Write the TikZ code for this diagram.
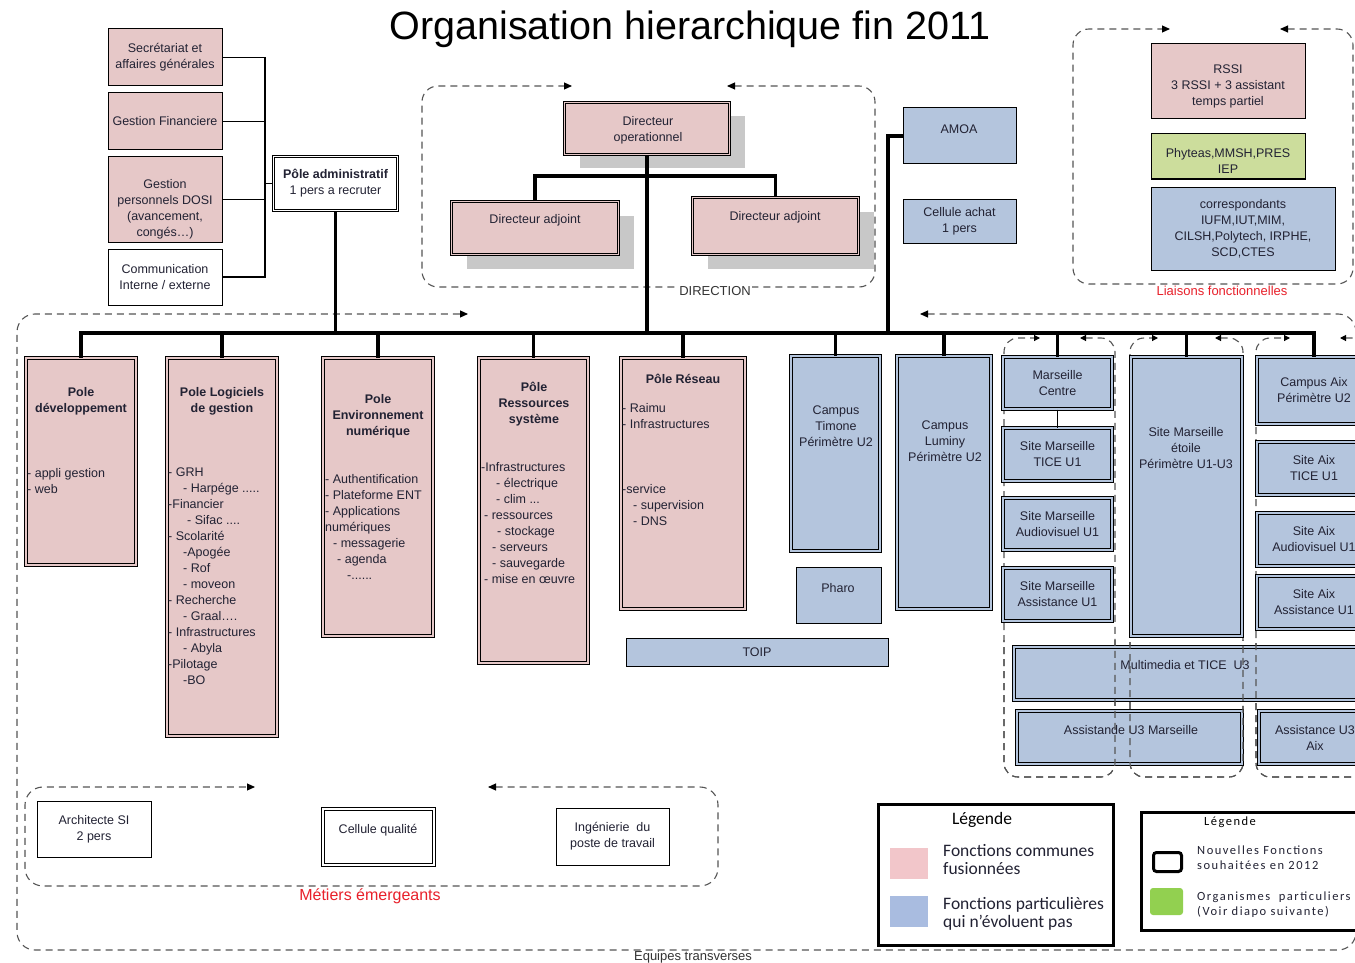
\documentclass[tikz,border=0pt]{standalone}
\usepackage{fontspec}
\setmainfont{Liberation Sans}
\newfontfamily\calfont{Carlito}
\newfontfamily\calsp[LetterSpace=12]{Carlito}
\usetikzlibrary{arrows.meta,shadows}
\definecolor{pinkc}{HTML}{E6C8C8}
\definecolor{bluec}{HTML}{B4C5DD}
\definecolor{greenc}{HTML}{CCDD9C}
\definecolor{lgreen}{HTML}{92D050}
\definecolor{lpink}{HTML}{F2C6CA}
\definecolor{lblue}{HTML}{A9BCE0}
\definecolor{txt}{HTML}{222233}
\definecolor{grpc}{HTML}{555555}
\definecolor{redc}{HTML}{E8202A}
\definecolor{shadowc}{HTML}{C8C8C8}
\tikzset{
  box/.style={draw=black, line width=1pt, rectangle, inner sep=0pt, text=txt, align=center, font=\fontsize{12.5}{16}\selectfont},
  pk/.style={box, fill=pinkc},
  bl/.style={box, fill=bluec},
  wh/.style={box, fill=white},
  dbl/.style={double=#1, double distance=1.6pt, line width=1pt},
  sz/.style 2 args={minimum width=#1pt, minimum height=#2pt},
  shadowed/.style={drop shadow={shadow xshift=15pt, shadow yshift=-14pt, fill=shadowc, opacity=1}},
  tx/.style={inner sep=0pt, text=txt, align=center, font=\fontsize{12.5}{16}\selectfont},
  txb/.style={tx, font=\fontsize{12.5}{16}\selectfont\bfseries},
  txl/.style={inner sep=0pt, text=txt, align=left, anchor=west, font=\fontsize{12.5}{16}\selectfont},
  bus/.style={line width=3.5pt, line join=miter},
  conn/.style={line width=1.3pt},
  grp/.style={draw=grpc, line width=1.1pt, dash pattern=on 7pt off 5pt, rounded corners=#1},
  bigtips/.style={{Triangle[length=8pt,width=7pt,color=black]}-{Triangle[length=8pt,width=7pt,color=black]}},
  smalltips/.style={{Triangle[length=6pt,width=6pt,color=black]}-{Triangle[length=6pt,width=6pt,color=black]}},
  lab/.style={inner sep=1pt, text=black!80, font=\fontsize{13}{15}\selectfont},
}
\newcommand\colgrps{%
  \draw[grp=14pt, smalltips] (1080,338) -- (1115,338) -- (1115,777) -- (1004,777) -- (1004,338) -- (1040,338);
  \draw[grp=14pt, smalltips] (1215,338) -- (1243,338) -- (1243,777) -- (1130,777) -- (1130,338) -- (1158,338);
  \draw[grp=14pt, smalltips] (1340,338) -- (1375,338) -- (1375,777) -- (1256,777) -- (1256,338) -- (1290,338);
}
\begin{document}
\begin{tikzpicture}[x=1pt,y=-1pt]
\fill[white] (0,0) rectangle (1355,963);
\useasboundingbox (0,0) rectangle (1355,963);

% title
\node[inner sep=0pt, font=\fontsize{39.5}{44}\selectfont] (title) at (690,29) {Organisation hierarchique fin 2011};

% big dashed groups
\draw[grp=16pt, bigtips] (727,86) -- (875,86) -- (875,287) -- (422,287) -- (422,86) -- (572,86);
\draw[grp=16pt, bigtips] (1280,29) -- (1353,29) -- (1353,284) -- (1073,284) -- (1073,29) -- (1170,29);
\draw[grp=18pt, bigtips] (920,314) -- (1356,314) -- (1356,950) -- (17,950) -- (17,314) -- (468,314);
\draw[grp=18pt, bigtips] (488,787) -- (718,787) -- (718,886) -- (25,886) -- (25,787) -- (255,787);
\colgrps

\node[lab, fill=white] (dirlab) at (715,291) {DIRECTION};
\node[lab, text=redc] (liaislab) at (1222,291) {Liaisons fonctionnelles};
\node[lab, text=redc, font=\fontsize{16}{18}\selectfont] (metlab) at (370,896) {Métiers émergeants};
\node[lab] (eqlab) at (693,957) {Equipes transverses};

% administrative
\node[pk, sz={114}{57}] (sec) at (165,57.5) {Secrétariat et\\affaires générales};
\node[pk, sz={114}{57}] (gfin) at (165,121.5) {Gestion Financiere};
\node[pk, sz={114}{85}] (gpers) at (165,199.5) {};
\node[tx] (gperst) at (165,209) {Gestion\\personnels DOSI\\(avancement,\\congés…)};
\node[wh, sz={114}{56}] (comm) at (165,277) {Communication\\Interne / externe};
\node[wh, dbl=white, sz={124}{54}] (adm) at (335.5,183.5) {\textbf{Pôle administratif}\\1 pers a recruter};
\coordinate (vx) at (265,0);
\draw[conn] (sec.east) -- (sec.east -| vx) -- (comm.east -| vx) -- (comm.east);
\draw[conn] (gfin.east) -- (gfin.east -| vx);
\draw[conn] (gpers.east) -- (gpers.east -| vx);
\draw[conn] (adm.west) -- (adm.west -| vx);

% direction
\node[pk, dbl=pinkc, sz={165}{52}, shadowed] (dirop) at (647,128.5) {};
\node[tx] (diropt) at (648,130) {Directeur\\operationnel};
\node[pk, dbl=pinkc, sz={167}{53}, shadowed] (dadjl) at (535,228) {};
\node[tx] (dadjlt) at (535,220) {Directeur adjoint};
\node[pk, dbl=pinkc, sz={166}{57}, shadowed] (dadjr) at (775.5,226) {};
\node[tx] (dadjrt) at (775,217) {Directeur adjoint};
\coordinate (dy) at (0,176);
\draw[bus] (dadjl.north) -- (dadjl.north |- dy) -- (dadjr.north |- dy) -- (dadjr.north);

\node[bl, sz={113}{56}] (amoa) at (959.5,136) {};
\node[tx] (amoat) at (959,129) {AMOA};
\node[bl, sz={113}{44}] (achat) at (959.5,221) {Cellule achat\\1 pers};

% liaisons
\node[pk, sz={154}{75}] (rssi) at (1228,81.5) {};
\node[tx] (rssit) at (1228,86) {RSSI\\3 RSSI + 3 assistant\\temps partiel};
\node[box, fill=greenc, sz={154}{45}] (phy) at (1228,156.5) {};
\node[tx] (phyt) at (1228,160.5) {Phyteas,MMSH,PRES\\IEP};
\node[bl, sz={184}{83}] (corr) at (1243,228.5) {correspondants\\IUFM,IUT,MIM,\\CILSH,Polytech, IRPHE,\\SCD,CTES};

% poles
\node[pk, dbl=pinkc, sz={110}{207}] (dev) at (81,461.5) {};
\node[txb] (devt) at (81,401) {Pole\\développement};
\node[txl] (devi) at (27,481) {- appli gestion\\- web};

\node[pk, dbl=pinkc, sz={110}{378}] (logi) at (222,547) {};
\node[txb] (logit) at (222,401) {Pole Logiciels\\de gestion};
\node[txl] (logii) at (168,576.5) {- GRH\\\hspace*{15pt}- Harpége .....\\-Financier\\\hspace*{19pt}- Sifac ....\\- Scolarité\\\hspace*{15pt}-Apogée\\\hspace*{15pt}- Rof\\\hspace*{15pt}- moveon\\- Recherche\\\hspace*{15pt}- Graal….\\- Infrastructures\\\hspace*{15pt}- Abyla\\-Pilotage\\\hspace*{15pt}-BO};

\node[pk, dbl=pinkc, sz={110}{278}] (env) at (378,497) {};
\node[txb] (envt) at (378,416) {Pole\\Environnement\\numérique};
\node[txl] (envi) at (325,527) {- Authentification\\- Plateforme ENT\\- Applications\\numériques\\\hspace*{8pt}- messagerie\\\hspace*{12pt}- agenda\\\hspace*{22pt}-......};

\node[pk, dbl=pinkc, sz={109}{305}] (ress) at (533.5,510.5) {};
\node[txb] (resst) at (534,404) {Pôle\\Ressources\\système};
\node[txl] (ressi) at (481,523.5) {-Infrastructures\\\hspace*{15pt}- électrique\\\hspace*{15pt}- clim ...\\\hspace*{3pt}- ressources\\\hspace*{16pt}- stockage\\\hspace*{11pt}- serveurs\\\hspace*{11pt}- sauvegarde\\\hspace*{3pt}- mise en œuvre};

\node[pk, dbl=pinkc, sz={124}{251}] (res) at (683,483.5) {};
\node[txb] (rest) at (683,379) {Pôle Réseau};
\node[txl] (resi1) at (622,416.5) {- Raimu\\- Infrastructures};
\node[txl] (resi2) at (622,505) {-service\\\hspace*{11pt}- supervision\\\hspace*{11pt}- DNS};

\node[bl, dbl=bluec, sz={89}{195}] (tim) at (835.5,453.5) {};
\node[tx] (timt) at (836,426) {Campus\\Timone\\Périmètre U2};
\node[bl, sz={85}{56}] (pharo) at (838.5,595) {};
\node[tx] (pharot) at (838,588) {Pharo};
\node[bl, dbl=bluec, sz={94}{253}] (lum) at (944,482.5) {};
\node[tx] (lumt) at (945,441) {Campus\\Luminy\\Périmètre U2};
\node[bl, sz={262}{28}] (toip) at (757,652) {TOIP};

% right side sites
\node[bl, dbl=bluec, sz={109}{52}] (mc) at (1057.5,383) {Marseille\\Centre};
\node[bl, dbl=bluec, sz={109}{53}] (mt) at (1057.5,454.5) {Site Marseille\\TICE U1};
\node[bl, dbl=bluec, sz={109}{52}] (ma) at (1057.5,524) {Site Marseille\\Audiovisuel U1};
\node[bl, dbl=bluec, sz={109}{53}] (ms) at (1057.5,594.5) {Site Marseille\\Assistance U1};
\draw[conn] (mc.south) -- (mt.north);
\node[bl, dbl=bluec, sz={111}{279}] (etoile) at (1186.5,496.5) {};
\node[tx] (etoilet) at (1186,448) {Site Marseille\\étoile\\Périmètre U1-U3};
\node[bl, dbl=bluec, sz={114}{67}] (aixc) at (1314,390.5) {Campus Aix\\Périmètre U2};
\node[bl, dbl=bluec, sz={114}{53}] (aixt) at (1314,468.5) {Site Aix\\TICE U1};
\node[bl, dbl=bluec, sz={114}{53}] (aixa) at (1314,539.5) {Site Aix\\Audiovisuel U1};
\node[bl, dbl=bluec, sz={114}{53}] (aixs) at (1314,602.5) {Site Aix\\Assistance U1};
\node[bl, dbl=bluec, sz={357}{53}] (mm) at (1192.5,673.5) {};
\node[tx] (mmt) at (1185,665) {Multimedia et TICE\ \ U3};
\node[bl, dbl=bluec, sz={225}{53}] (asm) at (1129.5,737.5) {};
\node[tx] (asmt) at (1131,730) {Assistande U3 Marseille};
\node[bl, dbl=bluec, sz={112}{53}] (asa) at (1315,737.5) {Assistance U3\\Aix};
\begin{scope}
  \clip (990,640) rectangle (1380,790);
  \colgrps
\end{scope}

% bus
\coordinate (busy) at (0,333);
\draw[bus] (dev.north) -- (dev.north |- busy) -- (aixc.north |- busy) -- (aixc.north);
\foreach \n in {logi,env,ress,res,tim,lum,mc,etoile} \draw[bus] (\n.north) -- (\n.north |- busy);
\draw[bus] (adm.south) -- (adm.south |- busy);
\draw[bus] (dirop.south) -- (dirop.south |- busy);
\coordinate (ax) at (888,0);
\draw[bus] (amoa.west) -- (amoa.west -| ax) -- (ax |- busy);

% emerging
\node[wh, sz={114}{56}] (arch) at (94,829) {Architecte SI\\2 pers};
\node[wh, dbl=white, sz={111}{56}] (cq) at (378.5,837) {};
\node[tx] (cqt) at (378,830) {Cellule qualité};
\node[wh, sz={113}{57}] (ing) at (612.5,836.5) {Ingénierie\ \ du\\poste de travail};

% legend 1
\node[draw, line width=3pt, fill=white, sz={235}{141}] (leg1) at (996,875) {};
\node[inner sep=0pt, font=\calfont\fontsize{17.5}{18}\selectfont] (leg1t) at (982,820) {Légende};
\node[fill=lpink, inner sep=0pt, sz={38}{31}] (sw1) at (909,863.5) {};
\node[fill=lblue, inner sep=0pt, sz={38}{31}] (sw2) at (909,911.5) {};
\node[inner sep=0pt, anchor=west, align=left, text=txt, font=\calfont\fontsize{17.5}{18}\selectfont] (lt1) at (943,860) {Fonctions communes\\fusionnées};
\node[inner sep=0pt, anchor=west, align=left, text=txt, font=\calfont\fontsize{17.5}{18}\selectfont] (lt2) at (943,914) {Fonctions particulières\\qui n’évoluent pas};

% legend 2
\node[draw, line width=3pt, fill=white, sz={229}{118}] (leg2) at (1256,871.5) {};
\node[inner sep=0pt, font=\calsp\fontsize{12.5}{15}\selectfont] (leg2t) at (1230,822) {Légende};
\node[draw, line width=3pt, fill=white, rounded corners=3pt, inner sep=0pt, sz={28}{19}] (sw3) at (1167.5,862) {};
\node[fill=lgreen, rounded corners=3pt, inner sep=0pt, sz={33}{27}] (sw4) at (1166.5,901.5) {};
\node[inner sep=0pt, anchor=west, align=left, text=txt, font=\calsp\fontsize{12.5}{15}\selectfont] (lt3) at (1197,857.5) {Nouvelles Fonctions\\souhaitées en 2012};
\node[inner sep=0pt, anchor=west, align=left, text=txt, font=\calsp\fontsize{12.5}{15}\selectfont] (lt4) at (1197,904.5) {Organismes\ \ particuliers\\(Voir diapo suivante)};
\end{tikzpicture}
\end{document}
